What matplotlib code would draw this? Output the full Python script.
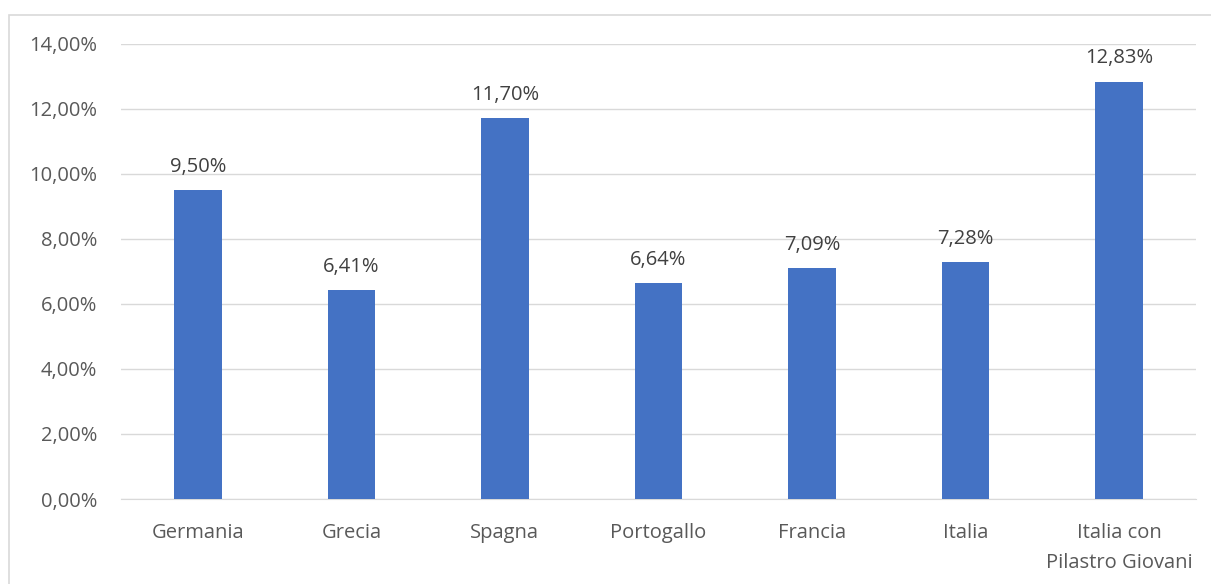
import matplotlib

matplotlib.use("Agg")
import matplotlib.pyplot as plt  # noqa: E402
from matplotlib.patches import Rectangle  # noqa: E402
from matplotlib.ticker import FuncFormatter  # noqa: E402

countries = [
    "Germania",
    "Grecia",
    "Spagna",
    "Portogallo",
    "Francia",
    "Italia",
    "Italia con\nPilastro Giovani",
]
rates = [9.50, 6.41, 11.70, 6.64, 7.09, 7.28, 12.83]
yticks = [0, 2, 4, 6, 8, 10, 12, 14]

BAR = "#4472c4"
TEXT = "#595959"
GRID = "#d9d9d9"


def it_pct(v, _pos=None):
    return f"{v:.2f}%".replace(".", ",")


plt.rcParams["font.family"] = ["Open Sans", "DejaVu Sans"]

fig = plt.figure(figsize=(12.11, 5.84), dpi=100)
ax = fig.add_axes([0.0999, 0.1455, 0.8877, 0.78])

x = range(len(countries))
bars = ax.bar(x, rates, width=0.31, color=BAR, zorder=3)
for b, v in zip(bars, rates):
    ax.annotate(it_pct(v), (b.get_x() + b.get_width() / 2, v),
                xytext=(0, 9.5), textcoords="offset points",
                ha="center", va="bottom", fontsize=14.5, color="#404040")

ax.set_xlim(-0.5, len(countries) - 0.5)
ax.set_ylim(0, 14)
ax.set_yticks(yticks)
ax.yaxis.set_major_formatter(FuncFormatter(it_pct))
ax.set_xticks(list(x))
ax.set_xticklabels(countries, linespacing=1.65)
ax.tick_params(axis="y", length=0, pad=17, labelsize=14.5, labelcolor=TEXT)
ax.tick_params(axis="x", length=0, pad=17.5, labelsize=14.5, labelcolor=TEXT)
ax.grid(axis="y", color=GRID, lw=1, zorder=0)
for side in ["top", "right", "left"]:
    ax.spines[side].set_visible(False)
ax.spines["bottom"].set_color(GRID)

frame = Rectangle((9 / 1211, -0.2), 1.5, 1 - 15 / 584 + 0.2,
                  transform=fig.transFigure, fill=False,
                  edgecolor=GRID, lw=1.2, clip_on=False)
fig.patches.append(frame)

fig.savefig("out.png", dpi=100)
plt.close(fig)
